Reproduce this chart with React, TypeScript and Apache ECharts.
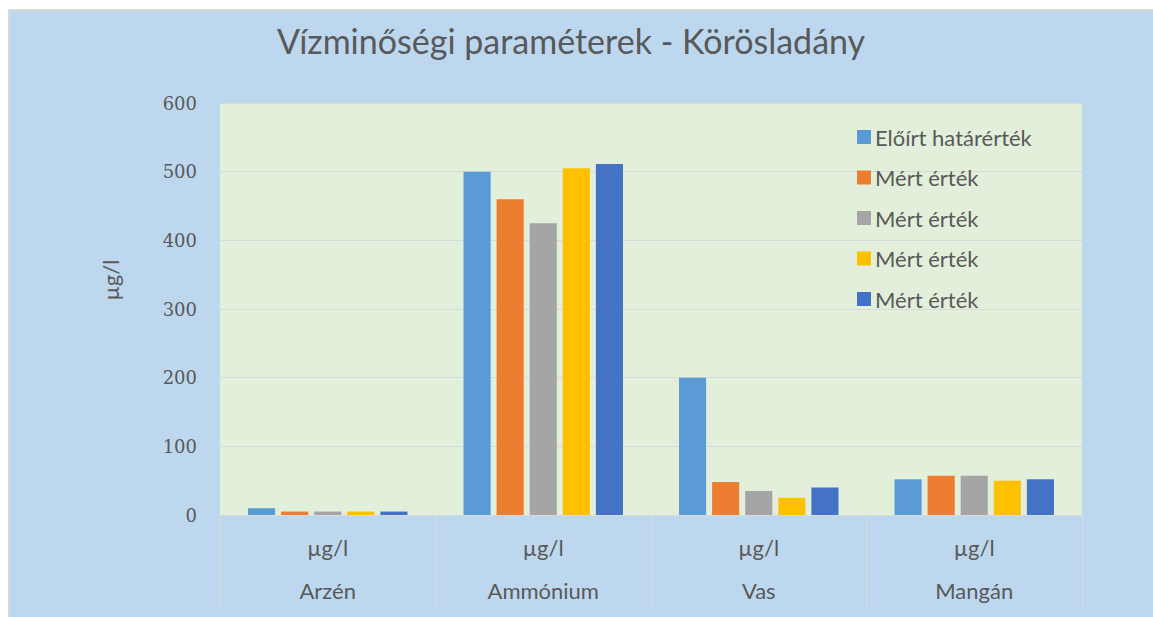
import React, { useEffect, useRef } from "react";
import * as echarts from "echarts";

const categories = ["Arzén", "Ammónium", "Vas", "Mangán"];
const unitLabel = "µg/l";
const seriesNames = ["Előírt határérték", "Mért érték 1", "Mért érték 2", "Mért érték 3", "Mért érték 4"];
const limitValues = [10, 500, 200, 52];
const measured1 = [5, 460, 48, 57];
const measured2 = [5, 425, 35, 57];
const measured3 = [5, 505, 25, 50];
const measured4 = [5, 511, 40, 52];
const seriesColors = ["#5B9BD5", "#ED7D31", "#A5A5A5", "#FFC000", "#4472C4"];
const yTicks = [0, 100, 200, 300, 400, 500, 600];

export default function App() {
  const ref = useRef<HTMLDivElement>(null);
  useEffect(() => {
    if (!ref.current) return;
    const chart = echarts.init(ref.current, null, { renderer: "svg" });
    const allValues = [limitValues, measured1, measured2, measured3, measured4];
    const textColor = "#595959";
    const sans = "Lato, 'Noto Sans', sans-serif";
    chart.setOption({
      animation: false,
      backgroundColor: "#FFFFFF",
      graphic: [
        {
          type: "rect",
          z: -10,
          shape: { x: 9, y: 10, width: 1160, height: 630 },
          style: { fill: "#BDD7EE", stroke: "#D9D9D9", lineWidth: 2 },
        },
        {
          type: "text",
          x: 571,
          y: 40,
          style: {
            text: "Vízminőségi paraméterek - Körösladány",
            fill: textColor,
            font: "34px " + sans,
            textAlign: "center",
            textVerticalAlign: "middle",
          },
        },
        {
          type: "text",
          x: 110,
          y: 280,
          rotation: Math.PI / 2,
          style: {
            text: unitLabel,
            fill: textColor,
            font: "22px " + sans,
            textAlign: "center",
            textVerticalAlign: "middle",
          },
        },
      ],
      legend: {
        orient: "vertical",
        left: 852,
        top: 121,
        itemWidth: 14,
        itemHeight: 14,
        itemGap: 18.5,
        icon: "rect",
        textStyle: {
          color: textColor,
          fontSize: 22,
          lineHeight: 20,
          fontFamily: sans,
          padding: [0, 0, 0, -1],
        },
        formatter: (name: string) => name.replace(/ \d$/, ""),
        data: seriesNames,
      },
      grid: {
        left: 220,
        top: 103,
        width: 862,
        height: 412,
        show: true,
        backgroundColor: "#E2EFDA",
        borderWidth: 0,
      },
      xAxis: {
        type: "category",
        data: categories,
        axisLine: { show: true, lineStyle: { color: "#D9D9D9", width: 1 } },
        axisTick: { show: true, interval: 0, length: 92, lineStyle: { color: "#D9D9D9", width: 1 } },
        axisLabel: {
          interval: 0,
          margin: 11,
          color: textColor,
          fontSize: 22,
          lineHeight: 43,
          fontFamily: sans,
          formatter: (v: string) => unitLabel + "\n" + v,
        },
      },
      yAxis: {
        type: "value",
        min: 0,
        max: 600,
        interval: 100,
        axisLine: { show: false },
        axisTick: { show: false },
        splitLine: { lineStyle: { color: "#D9D9D9", width: 1 } },
        axisLabel: {
          margin: 23,
          color: textColor,
          fontSize: 18,
          fontFamily: "'DejaVu Serif', serif",
          formatter: (v: number) => (yTicks.includes(v) ? String(v) : ""),
        },
      },
      series: seriesNames.map((name, i) => ({
        name,
        type: "bar",
        data: allValues[i],
        barGap: "22%",
        barCategoryGap: "26%",
        itemStyle: { color: seriesColors[i] },
      })),
    });
    return () => chart.dispose();
  }, []);
  return (
    <div
      ref={ref}
      style={{ position: "fixed", left: 0, top: 0, width: 1153, height: 617 }}
    />
  );
}
